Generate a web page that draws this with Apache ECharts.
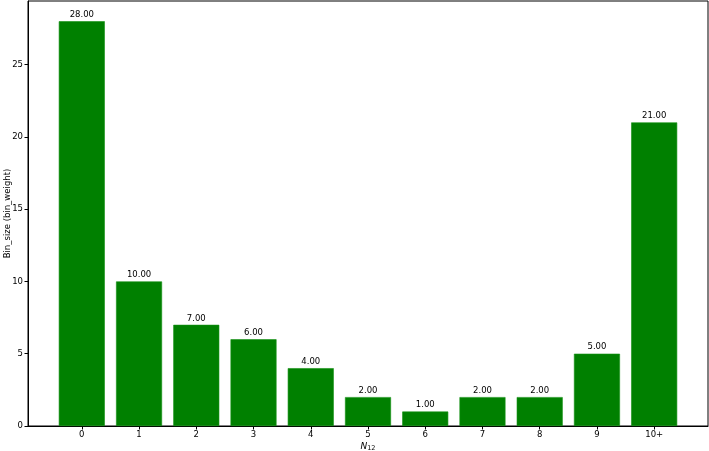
<!DOCTYPE html>
<html>
<head>
<meta charset="utf-8">
<script src="https://cdn.jsdelivr.net/npm/echarts@6/dist/echarts.min.js"></script>
<style>
html,body{margin:0;padding:0;background:#fff;}
#main{width:709px;height:451px;}
</style>
</head>
<body>
<div id="main"></div>
<script>
const categories = ['0','1','2','3','4','5','6','7','8','9','10+'];
const binSizes = [28, 10, 7, 6, 4, 2, 1, 2, 2, 5, 21];
const yTicks = [0, 5, 10, 15, 20, 25];

const positions = categories.map((c, i) => i);
const font = 'DejaVu Sans';
const chart = echarts.init(document.getElementById('main'), null, {renderer: 'canvas'});
chart.setOption({
  animation: false,
  backgroundColor: '#fff',
  grid: {left: 28, right: 1, top: 1, bottom: 25, show: true, borderColor: '#000', borderWidth: 1, containLabel: false, outerBoundsMode: 'none'},
  xAxis: {
    type: 'value', min: -0.94, max: 10.94,
    splitLine: {show: false},
    axisLine: {show: true, onZero: false, lineStyle: {color: '#000', width: 1}},
    axisTick: {show: true, customValues: positions, length: 3.5, inside: false, lineStyle: {color: '#000'}},
    axisLabel: {customValues: positions, formatter: v => categories[Math.round(v)], color: '#000', fontFamily: font, fontSize: 8.5, margin: 4},
    name: '{n|N}{s|12}', nameLocation: 'middle', nameGap: 15, nameMoveOverlap: false,
    nameTextStyle: {rich: {
      n: {fontFamily: font, fontStyle: 'italic', fontSize: 9, color: '#000'},
      s: {fontFamily: font, fontSize: 6.5, color: '#000', verticalAlign: 'bottom', padding: [4, 0, 0, 0]}
    }}
  },
  yAxis: {
    type: 'value', min: 0, max: 29.4,
    splitLine: {show: false},
    axisLine: {show: true, onZero: false, lineStyle: {color: '#000', width: 1}},
    axisTick: {show: true, customValues: yTicks, length: 3.5, lineStyle: {color: '#000'}},
    axisLabel: {customValues: yTicks, color: '#000', fontFamily: font, fontSize: 8.5, margin: 5},
    name: 'Bin_size (bin_weight)', nameLocation: 'middle', nameGap: 16, nameMoveOverlap: false,
    nameTextStyle: {fontFamily: font, fontSize: 8.5, color: '#000'}
  },
  series: [{
    type: 'bar',
    data: binSizes.map((v, i) => [positions[i], v]),
    barWidth: 46,
    itemStyle: {color: '#008000', borderColor: '#139013', borderWidth: 0.6},
    label: {show: true, position: 'top', distance: 2, formatter: p => p.value[1].toFixed(2), color: '#000', fontFamily: font, fontSize: 8.5}
  }]
});
</script>
</body>
</html>
